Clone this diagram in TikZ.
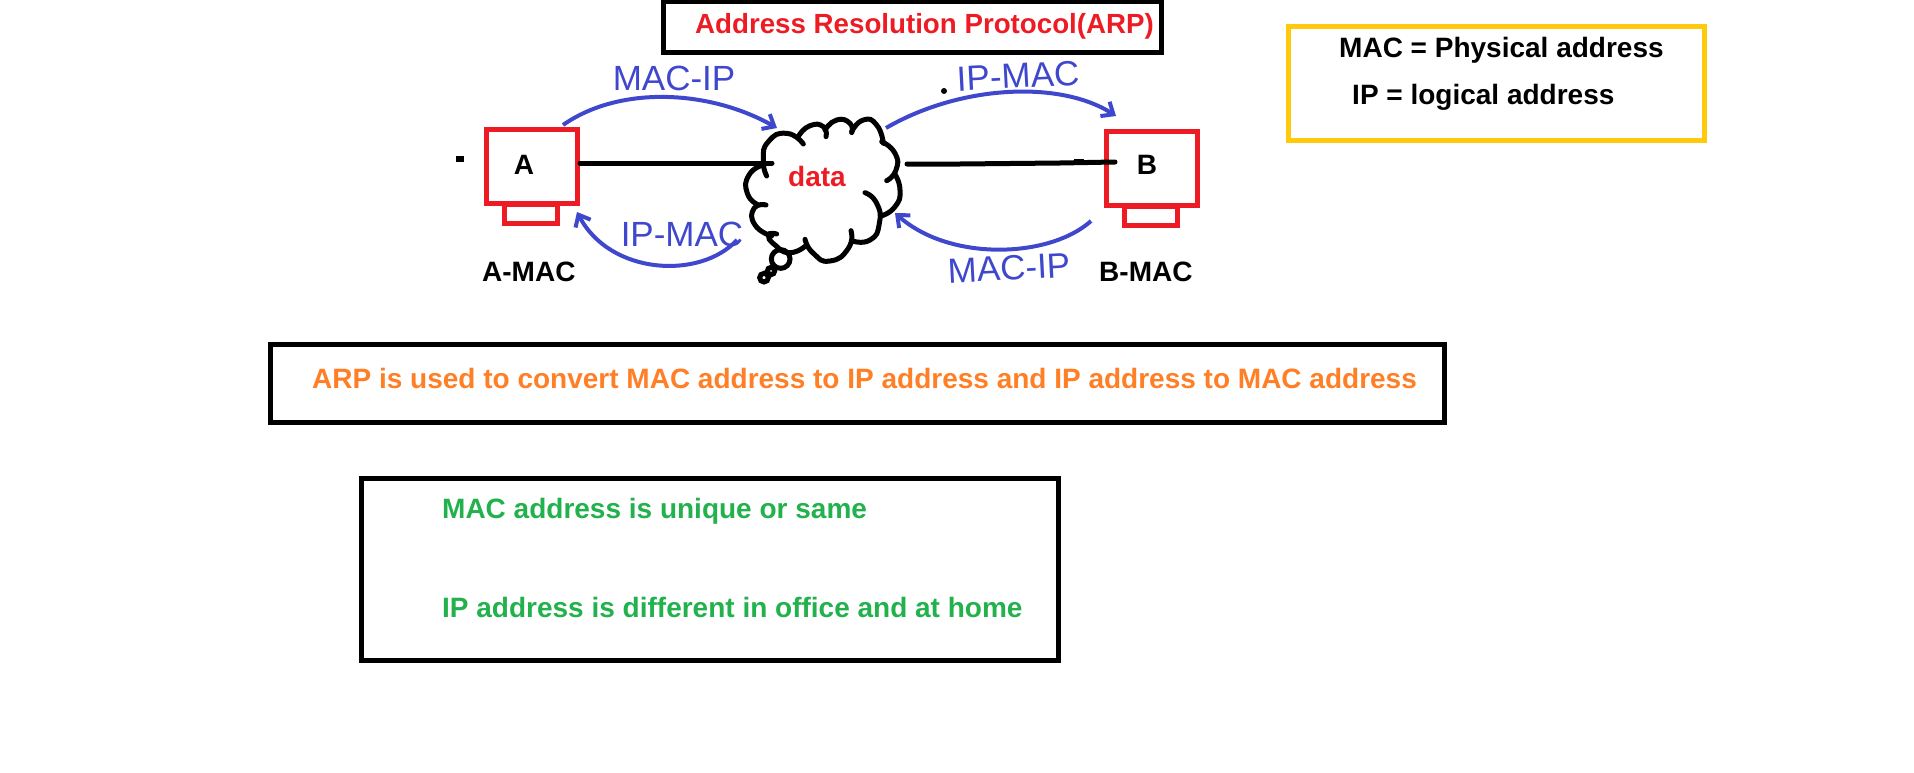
\documentclass[tikz,border=0pt]{standalone}
\usepackage{fontspec}
\setmainfont{Liberation Sans}
\usetikzlibrary{arrows.meta}
\definecolor{arpred}{HTML}{ED1C24}
\definecolor{arpblue}{HTML}{3F48CC}
\definecolor{arpyellow}{HTML}{FFC90E}
\definecolor{arporange}{HTML}{FF7F27}
\definecolor{arpgreen}{HTML}{22B14C}
\tikzset{
  txt/.style={font=\bfseries\fontsize{28}{32}\selectfont, inner sep=0pt, anchor=base west},
  hand/.style={font=\fontsize{35}{37}\selectfont, text=arpblue, inner sep=0pt},
  frame/.style={draw, line width=5pt, rectangle, inner sep=0pt},
  pcbox/.style={draw=arpred, line width=5pt, rectangle, inner sep=0pt, minimum width=91pt, minimum height=74pt},
  pcstand/.style={draw=arpred, line width=5pt, rectangle, inner sep=0pt, minimum width=53pt, minimum height=19pt},
  wire/.style={line width=5pt, line cap=round},
  flow/.style={draw=arpblue, line width=4pt, -{Straight Barb[length=10pt,width=17pt]}},
  puff/.style={line width=5pt, line cap=round}
}
\begin{document}
\begin{tikzpicture}[x=1pt,y=-1pt]
\useasboundingbox (0,0) rectangle (1914,773);
\node[frame, minimum width=498pt, minimum height=50.5pt] (titlebox) at (912.5,27.25){};
\node[txt, text=arpred, font=\bfseries\fontsize{27.7}{32}\selectfont] (title) at (695,34){Address Resolution Protocol(ARP)};
\node[frame, draw=arpyellow, minimum width=416pt, minimum height=114pt] (keybox) at (1496.5,83.5){};
\node[txt] (keymac) at (1339,58){MAC = Physical address};
\node[txt] (keyip) at (1352,105){IP = logical address};
\node[frame, minimum width=1174pt, minimum height=78pt] (usebox) at (857.5,383.5){};
\node[txt, text=arporange] (usetxt) at (312,388){ARP is used to convert MAC address to IP address and IP address to MAC address};
\node[frame, minimum width=697pt, minimum height=182pt] (notebox) at (710,569.5){};
\node[txt, text=arpgreen] (notemac) at (442,518){MAC address is unique or same};
\node[txt, text=arpgreen] (noteip) at (442,617){IP address is different in office and at home};
\node[pcstand] (standA) at (531,214){};
\node[pcbox] (pcA) at (532,166.5){};
\node[txt, anchor=center] (nameA) at (524,165){A};
\node[txt] (macA) at (482,281){A-MAC};
\node[pcstand] (standB) at (1151,216){};
\node[pcbox] (pcB) at (1152,168.5){};
\node[txt, anchor=center] (nameB) at (1147,165){B};
\node[txt] (macB) at (1099,281){B-MAC};
\node[txt, text=arpred] (data) at (788,186){data};
\begin{scope}[shift={(740,110)},scale=1/3]
\draw[puff] plot[smooth, tension=1] coordinates {(80,198) (70,150) (85,95) (140,70) (190,102)};
\draw[puff] plot[smooth, tension=1] coordinates {(178,75) (210,47) (250,50) (258,80)};
\draw[puff] plot[smooth, tension=1] coordinates {(255,60) (290,30) (330,40) (335,68)};
\draw[puff] plot[smooth, tension=1] coordinates {(335,65) (370,30) (410,45) (430,100)};
\draw[puff] plot[smooth, tension=1] coordinates {(425,95) (465,130) (468,180) (440,212)};
\draw[puff] plot[smooth, tension=1] coordinates {(463,190) (480,240) (465,290) (423,318)};
\draw[puff] plot[smooth, tension=1] coordinates {(375,248) (410,280) (418,340) (390,390) (335,392)};
\draw[puff] plot[smooth, tension=1] coordinates {(333,362) (325,415) (270,453) (220,430) (195,388)};
\draw[puff] plot[smooth, tension=1] coordinates {(200,405) (150,428) (105,405) (85,375) (110,372)};
\draw[puff] plot[smooth, tension=1] coordinates {(95,378) (45,345) (42,295) (78,285)};
\draw[puff] plot[smooth, tension=1] coordinates {(55,285) (22,250) (27,195) (70,165)};
\draw[puff] (122,447) circle (28);
\draw[puff] (93,483) circle (11);
\draw[puff] (72,503) circle (13);
\end{scope}
\coordinate (wireA) at (772,163);
\coordinate (wireB) at (907,164);
\coordinate (wireBend) at (1115,162);
\draw[wire] (pcA.east |- wireA) -- (wireA);
\draw[wire] (wireB) -- (960,164) -- (1060,163) -- (wireBend);
\draw[line width=2pt] (1074,160) -- (1084,160);
\fill (456,156) rectangle (464,162);
\fill (944,91) circle (3);
\coordinate (upAstart) at (563,125);
\coordinate (upAend) at (777,128);
\coordinate (upBstart) at (886,128);
\coordinate (upBend) at (1116,116);
\coordinate (lowBstart) at (1091,221);
\coordinate (lowBend) at (895,213);
\coordinate (lowAstart) at (737,240);
\coordinate (lowAend) at (577,212);
\draw[flow] (upAstart) .. controls (620,85) and (710,90) .. (upAend);
\draw[flow] (upBstart) .. controls (960,85) and (1060,80) .. (upBend);
\draw[flow] (lowBstart) .. controls (1050,258) and (950,262) .. (lowBend);
\draw[flow] (lowAstart) .. controls (700,280) and (610,275) .. (lowAend);
\node[hand] (flowAup) at (674,78.5){MAC-IP};
\node[hand, rotate=3] (flowBup) at (1018,76){IP-MAC};
\node[hand] (flowAlow) at (682,234){IP-MAC};
\node[hand, rotate=3] (flowBlow) at (1009,268){MAC-IP};
\end{tikzpicture}
\end{document}
